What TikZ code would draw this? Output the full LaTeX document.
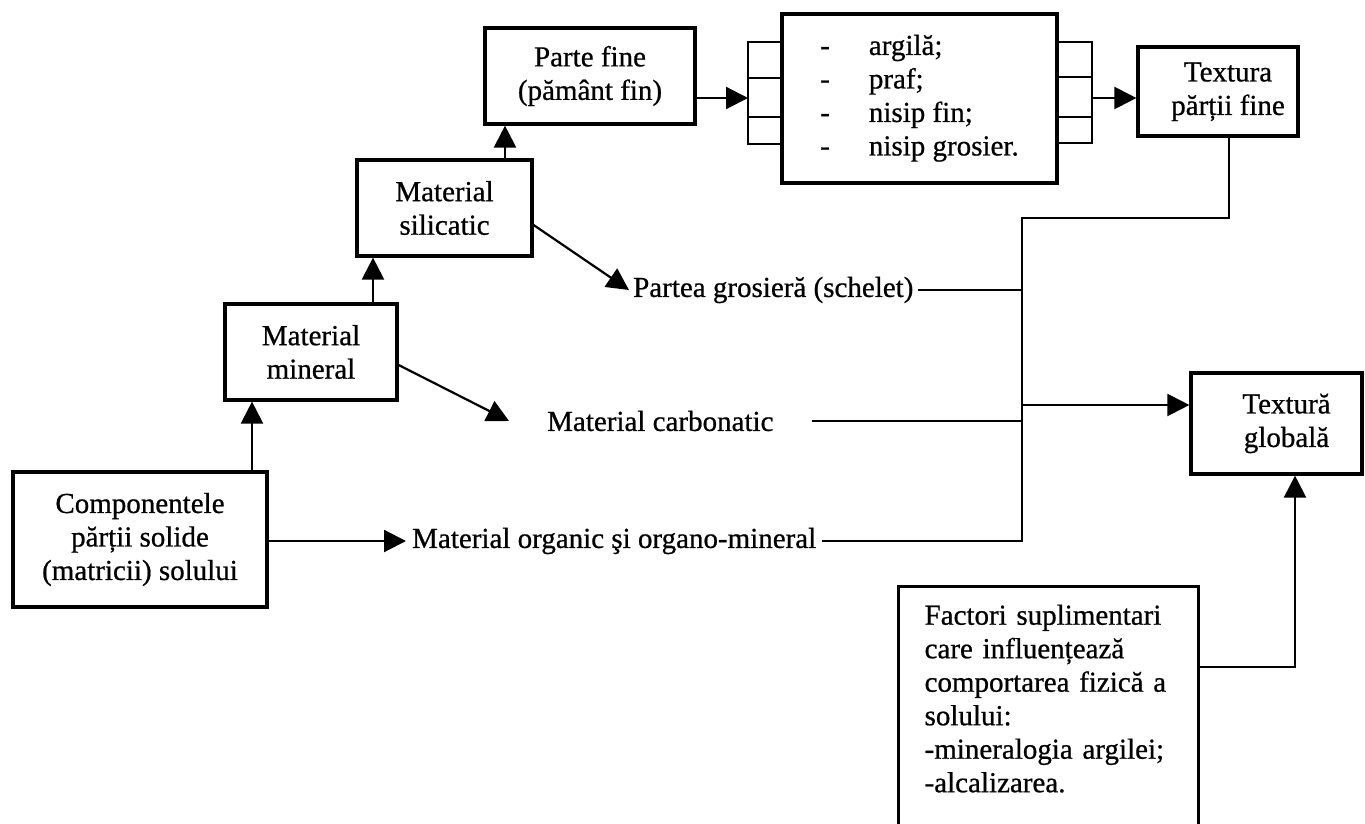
\documentclass[tikz,border=0pt]{standalone}
\usepackage{fontspec}
\setmainfont{Liberation Serif}[FakeBold=0.7]
\usetikzlibrary{arrows.meta,calc}
\tikzset{
  txt/.style={font=\fontsize{29}{33.5}\selectfont},
  box/.style={txt, draw, line width=3.2pt, inner sep=0pt, align=center},
  lbl/.style={txt, inner ysep=2pt, anchor=west},
  conn/.style={line width=2.2pt},
  arr/.style={conn, -{Triangle[length=22pt,width=22pt]}},
  cell/.style={line width=2pt},
}
\begin{document}
\begin{tikzpicture}[x=1pt,y=-1pt]
\clip (0,0) rectangle (1365,824);
\fill[white] (0,0) rectangle (1365,824);

% boxes
\node[box, minimum width=254pt, minimum height=135pt] (comp) at (140,539.5)
  {Componentele\\părții solide\\(matricii) solului};
\node[box, minimum width=172pt, minimum height=96pt] (mineral) at (311,352)
  {Material\\mineral};
\node[box, minimum width=175pt, minimum height=96pt] (silicatic) at (444.5,208)
  {Material\\silicatic};
\node[box, minimum width=210pt, minimum height=96pt] (fine) at (590,76)
  {Parte fine\\(pământ fin)};
\node[box, minimum width=275pt, minimum height=169pt] (list) at (919.5,98.5)
  {\begin{tabular}{@{}l@{\hspace{39pt}}l@{}}
   - & argilă;\\ - & praf;\\ - & nisip fin;\\ - & nisip grosier.
   \end{tabular}};
\node[box, minimum width=160pt, minimum height=89pt] (texfine) at (1218,91.5)
  {\hspace*{20pt}\begin{tabular}{@{}c@{}}Textura\\părții fine\end{tabular}};
\node[box, minimum width=171pt, minimum height=101pt] (global) at (1276.5,423.5)
  {\hspace*{20pt}\begin{tabular}{@{}c@{}}Textură\\globală\end{tabular}};
\node[txt, draw, line width=3.2pt, anchor=north west, inner xsep=26pt, inner ysep=18pt,
      text width=248pt, align=left] (factori) at (897,585)
  {Factori suplimentari\\care influențează\\comportarea fizică a\\solului:\\-mineralogia argilei;\\-alcalizarea.\\\mbox{}};

% free labels
\node[lbl, inner xsep=4pt] (grosiera) at (629,290) {Partea grosieră (schelet)};
\node[lbl, inner xsep=38pt] (carb) at (509,421) {Material carbonatic};
\node[lbl, inner xsep=6pt] (org) at (406,541) {Material organic şi organo-mineral};

% bracket cells beside the list
\draw[cell] (782,42) -| (748,144) -- (782,144);
\draw[cell] (748,78) -- (782,78) (748,117) -- (782,117);
\draw[cell] (1057,42) -| (1092,143) -- (1057,143);
\draw[cell] (1057,77) -- (1092,77) (1057,117) -- (1092,117);
\coordinate (lb) at (748,98);
\coordinate (rb) at (1092,98);

% upward chain
\draw[arr] (comp.north -| 252,0) -- (mineral.south -| 252,0);
\draw[arr] (mineral.north -| 373,0) -- (silicatic.south -| 373,0);
\draw[arr] (silicatic.north -| 505,0) -- (fine.south -| 505,0);
\draw[arr] (fine.east |- lb) -- (lb);
\draw[arr] (rb) -- (texfine.west |- rb);

% side branches
\draw[arr] (comp.east |- org.west) -- (org.west);
\draw[arr] ($(mineral.east)+(0,13)$) -- (carb.west);
\draw[arr] ($(silicatic.east)+(0,17)$) -- (grosiera.west);

% collector towards the global texture
\coordinate (bus) at (1022,218);
\draw[conn] (texfine.south -| 1229,0) |- (bus) -- (bus |- org.east) -- (org.east);
\draw[conn] (grosiera.east) -- (grosiera.east -| bus);
\draw[conn] (carb.east) -- (carb.east -| bus);
\draw[arr] (bus |- 0,405) -- (global.west |- 0,405);
\draw[arr] (factori.north east |- 0,667) -| (global.south -| 1295,0);
\end{tikzpicture}
\end{document}
